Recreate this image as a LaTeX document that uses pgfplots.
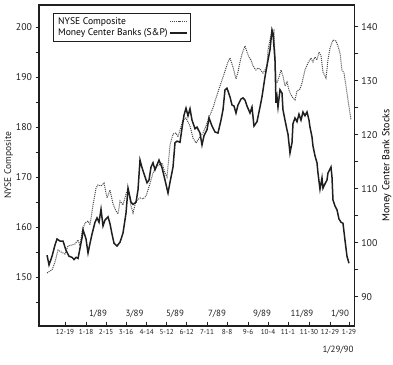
\documentclass[border=0pt]{standalone}
\usepackage{pgfplots}
\pgfplotsset{compat=1.18}
\usepackage{fontspec}
\setmainfont{PT Sans}
\definecolor{ink}{gray}{0.12}
\definecolor{dotc}{gray}{0.28}
\pgfplotsset{common/.style={scale only axis, width=315pt, height=320.7pt,
  xmin=39, xmax=354.3,
  axis line style={line width=1.2pt, ink},
  tick style={line width=0.8pt, ink},
  major tick length=3.5pt, minor tick length=3.5pt,
  /pgf/number format/assume math mode=true,
  every tick label/.append style={font=\fontsize{9.8}{11}\selectfont, text=ink},
  label style={font=\fontsize{9.5}{11}\selectfont, text=ink}}}
\begin{document}
\begin{tikzpicture}
\begin{axis}[common, name=a, ymin=140.3, ymax=204.5, tick align=outside,
  xtick=\empty, ytick={150,160,170,180,190,200},
  minor ytick={145,155,165,175,185,195}, ytick pos=left,
  ylabel={NYSE Composite}, ylabel shift=-4pt,
  legend style={at={(0.045,0.976)}, anchor=north west, draw=ink, line width=1pt,
    font=\fontsize{9.6}{11}\selectfont, inner sep=2.5pt, row sep=-1pt, cells={anchor=west}},
  legend plot pos=right]
\addplot[dotc, densely dotted, line width=1pt] table {
x y
47 150.9
50 151.3
52 151.5
55 153.1
58 155.5
61 155.1
65 154.7
68 156.3
72 156.5
75 156.7
78 157.5
80 156.3
82 159.1
85 160.9
88 161.3
90 160.5
93 164.5
96 167.9
98 168.5
101 168.3
104 168.9
107 165.9
110 167.5
113 164.7
116 163.3
118 162.7
120 165.3
123 164.5
126 166.7
128 167.7
131 164.3
133 162.9
136 165.3
140 165.9
143 165.7
146 166.3
148 167.5
151 169.5
153 170.9
156 172.1
159 172.5
162 172.9
165 170.9
167 170.1
170 176.5
173 178.7
176 178.9
178 178.1
180 179.5
183 181.5
186 181.9
188 181.1
190 180.3
193 177.9
196 176.9
200 178.1
203 178.9
206 180.3
208 181.5
210 182.5
213 183.9
216 185.9
218 187.1
220 188.3
223 190.1
226 191.9
228 193.1
230 193.9
233 192.1
236 189.7
238 191.1
240 193.1
242 194.7
245 196.3
247 195.1
249 194.1
251 193.5
253 192.3
256 191.5
258 191.9
260 191.7
263 190.9
265 191.5
267 192.3
268 195.5
270 197.5
272 199.3
274 199.5
275 194.5
276 189.5
277 188.9
279 190.1
281 191.5
283 190.3
285 188.3
287 189.1
289 187.5
291 186.5
293 185.9
295 185.5
297 187.3
300 187.7
302 188.9
305 191.5
308 192.9
311 193.9
313 193.1
315 194.1
317 193.5
319 195.1
321 194.3
323 191.1
326 189.9
328 193.5
330 195.9
333 197.5
336 197.3
338 196.3
340 194.9
342 191.5
344 190.9
346 188.3
348 185.5
350 182.9
351 181.5
};
\addlegendentry{NYSE Composite}
\addlegendimage{ink, line width=1.5pt}
\addlegendentry{Money Center Banks (S\&P)}
\end{axis}
\begin{axis}[common, ymin=84.6, ymax=144.0, tick align=outside,
  xtick=\empty, ytick={90,100,110,120,130,140},
  minor ytick={95,105,115,125,135}, ytick pos=right, yticklabel pos=right,
  ylabel near ticks, ylabel={Money Center Bank Stocks}, ylabel shift=-2pt]
\addplot[ink, line width=1.5pt] table {
x y
47 97.7
49 95.9
52 97.5
55 99.6
57 100.7
60 100.3
63 100.3
66 98.6
69 97.5
72 97.3
74 96.9
76 97.3
78 97.1
80 99.0
82 100.9
83 102.4
86 100.7
88 98.1
90 99.9
92 101.6
95 103.8
97 104.6
99 103.8
101 106.2
103 103.1
105 104.2
108 104.8
110 103.5
112 101.6
114 99.9
117 99.4
120 100.1
123 101.8
126 105.5
128 110.1
131 107.5
133 107.1
136 107.5
138 109.8
140 115.3
142 113.9
145 112.2
147 111.1
149 111.6
151 114.0
153 114.8
155 113.5
157 114.4
159 115.3
162 113.9
165 111.6
168 109.2
170 111.2
173 114.0
175 118.5
177 118.8
180 118.6
182 121.2
184 123.6
186 124.9
188 123.5
190 124.8
192 122.7
195 121.1
197 121.4
200 120.3
202 118.1
204 119.8
207 120.9
209 123.1
212 121.6
215 120.5
218 120.3
221 122.7
223 124.6
225 128.3
227 128.6
230 127.0
232 125.5
234 125.3
236 124.0
238 125.5
241 126.6
243 126.8
245 126.4
247 125.3
250 124.0
252 125.1
254 121.6
257 122.4
260 125.1
262 127.0
265 130.7
268 133.8
270 135.7
272 139.4
273 138.8
275 133.8
276 125.9
277 127.0
278 125.1
280 128.3
282 127.7
283 124.6
285 122.7
287 120.9
288 120.1
290 116.6
292 118.5
293 122.0
295 123.1
297 122.4
299 123.8
301 122.7
303 124.2
305 123.5
307 124.2
309 122.7
310 121.4
312 119.6
313 117.9
315 116.1
317 114.8
318 112.9
320 109.9
322 112.0
323 110.1
325 110.9
327 111.6
328 112.9
331 114.0
332 112.2
333 107.9
335 106.8
337 106.1
339 104.4
341 103.8
343 103.6
345 100.5
347 97.5
349 96.2
};
\end{axis}
\begin{axis}[common, ymin=140.3, ymax=204.5, clip=false, ytick=\empty,
  xtick pos=bottom, tick align=inside,
  xtick={65,86,106,126,146.7,166.7,186.7,207,227,248,268,288,309,330,349},
  xticklabels={12-19,1-18,2-15,3-16,4-14,5-12,6-12,7-11,8-8,9-6,10-4,11-1,11-30,12-29,1-29},
  x tick label style={font=\fontsize{7.2}{8.5}\selectfont}]
\addplot[draw=none] coordinates {(39,150)};
\begin{scope}[every node/.style={font=\fontsize{9}{10}\selectfont, text=ink}]
\node at (axis cs:98,142.7) {1/89};
\node at (axis cs:134.5,142.7) {3/89};
\node at (axis cs:175,142.7) {5/89};
\node at (axis cs:217,142.7) {7/89};
\node at (axis cs:262,142.7) {9/89};
\node at (axis cs:302,142.7) {11/89};
\node at (axis cs:340,142.7) {1/90};
\node at (axis cs:338,135.5) {1/29/90};
\end{scope}
\end{axis}
\pgfresetboundingbox
\path[use as bounding box] ([xshift=-39pt,yshift=-38.3pt]a.south west) rectangle ([xshift=38.7pt,yshift=5pt]a.north east);
\end{tikzpicture}
\end{document}
